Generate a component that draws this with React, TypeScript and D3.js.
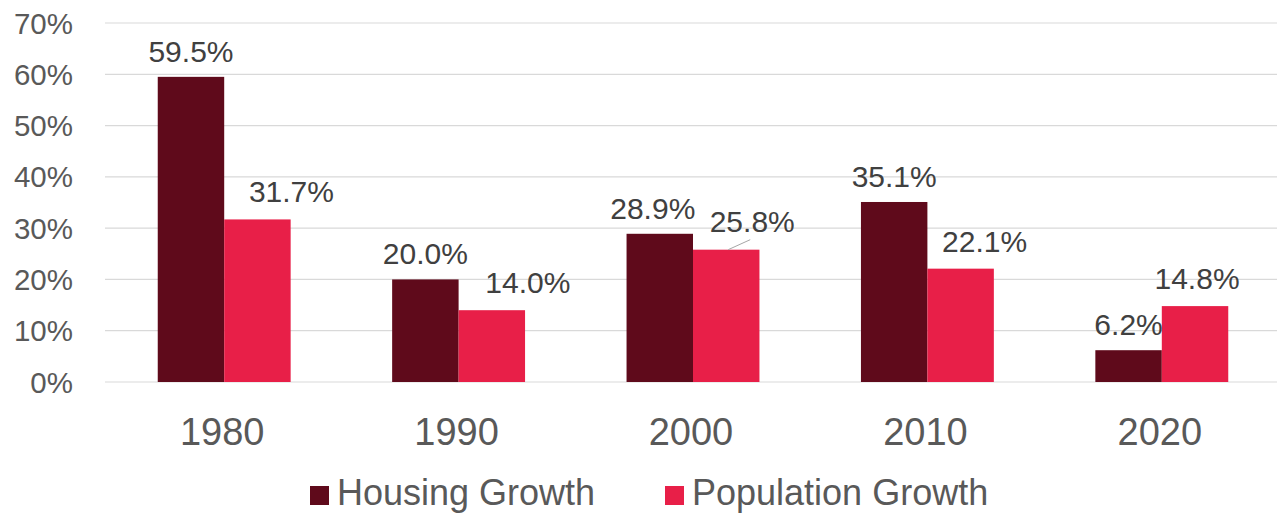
import React from "react";
import * as d3 from "d3";

const years = ["1980", "1990", "2000", "2010", "2020"];
const housingGrowth = [59.5, 20.0, 28.9, 35.1, 6.2];
const populationGrowth = [31.7, 14.0, 25.8, 22.1, 14.8];
const seriesNames = ["Housing Growth", "Population Growth"];
const seriesColors = ["#5f0a1b", "#e81f48"];
const yTicks = [0, 10, 20, 30, 40, 50, 60, 70];

const W = 1284;
const H = 517;
const FONT = "'Liberation Sans', Arial, sans-serif";

// horizontal label nudges (px) per series, per category, as placed in the original
const LABEL_DX = [
  [0, 0, -7, 0, 0],
  [34, 36, 26, 24, 2],
];

export default function App() {
  const x = d3.scaleBand<string>().domain(years).range([105, 1277]).paddingInner(0).paddingOuter(0);
  const y = d3.scaleLinear().domain([0, 70]).range([382, 23]);
  const groupW = x.bandwidth() * 0.567;
  const sub = d3.scaleBand<number>().domain([0, 1]).range([0, groupW]).padding(0);
  const series = [housingGrowth, populationGrowth];
  const barX = (s: number, i: number) =>
    (x(years[i]) as number) + (x.bandwidth() - groupW) / 2 + 2 + (sub(s) as number);

  return (
    <svg width={W} height={H} style={{ position: "absolute", left: 0, top: 0, background: "#fff" }} fontFamily={FONT}>
      {yTicks.map((t) => (
        <g key={t}>
          <line x1={105} x2={1277} y1={y(t)} y2={y(t)} stroke="#d9d9d9" strokeWidth={1.2} />
          <text x={73} y={y(t)} dy="0.36em" textAnchor="end" fontSize={29.5} fill="#595959">
            {t}%
          </text>
        </g>
      ))}
      {series.map((vals, s) =>
        vals.map((v, i) => (
          <rect key={`${s}-${i}`} x={barX(s, i)} y={y(v)} width={sub.bandwidth()} height={y(0) - y(v)} fill={seriesColors[s]} />
        ))
      )}
      {series.map((vals, s) =>
        vals.map((v, i) => {
          const cx = barX(s, i) + sub.bandwidth() / 2;
          const dx = LABEL_DX[s][i];
          const leader = years[i] === "2000" && s === 1;
          const ly = y(v) - (s === 0 ? 15 : 17) - (leader ? 1 : 0);
          return (
            <g key={`l${s}-${i}`}>
              {leader && (
                <line x1={cx + 2} y1={y(v)} x2={cx + dx - 2} y2={y(v) - 10} stroke="#a6a6a6" strokeWidth={1} />
              )}
              <text x={cx + dx} y={ly} textAnchor="middle" fontSize={30} fill="#404040">
                {v.toFixed(1)}%
              </text>
            </g>
          );
        })
      )}
      {years.map((yr) => (
        <text key={yr} x={(x(yr) as number) + x.bandwidth() / 2} y={445} textAnchor="middle" fontSize={38} fill="#595959">
          {yr}
        </text>
      ))}
      <g>
        <rect x={310} y={486} width={19} height={19} fill={seriesColors[0]} />
        <text x={337} y={505} fontSize={36} fill="#595959">{seriesNames[0]}</text>
        <rect x={665} y={486} width={19} height={19} fill={seriesColors[1]} />
        <text x={692} y={505} fontSize={36} fill="#595959">{seriesNames[1]}</text>
      </g>
    </svg>
  );
}
